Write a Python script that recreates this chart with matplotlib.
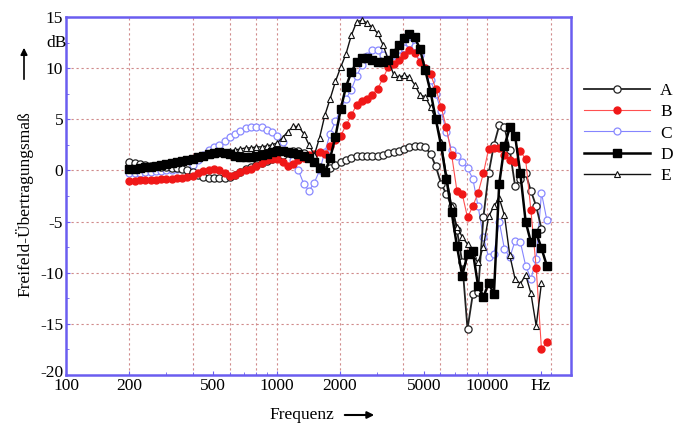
import matplotlib
matplotlib.use("Agg")
import matplotlib.pyplot as plt
import matplotlib.transforms as mtransforms
import numpy as np
from matplotlib.ticker import FixedLocator, LogLocator, MultipleLocator, NullFormatter

plt.rcParams["font.family"] = ["Liberation Serif", "DejaVu Serif"]
plt.rcParams["axes.unicode_minus"] = False

# Messfrequenzen (1/12 Oktave, Hz)
FREQ = [
    200, 212, 224, 238, 252, 267, 283, 300, 317, 336, 356, 377,
    400, 424, 449, 476, 504, 534, 566, 599, 635, 673, 713, 755,
    800, 848, 898, 951, 1008, 1068, 1131, 1199, 1270, 1345, 1425, 1510,
    1600, 1695, 1796, 1903, 2016, 2136, 2263, 2397, 2540, 2691, 2851, 3020,
    3200, 3390, 3592, 3805, 4032, 4271, 4525, 4794, 5080, 5382, 5702, 6041,
    6400, 6781, 7184, 7611, 8063, 8543, 9051, 9589, 10159, 10763, 11404, 12082,
    12800, 13561, 14368, 15222, 16127, 17086, 18102, 19178,
]

nan = np.nan
SERIES_A = [
    0.8, 0.7, 0.6, 0.5, 0.4, 0.4, 0.3, 0.3, 0.2, 0.2, 0.1, 0.0,
    -0.2, -0.4, -0.6, -0.7, -0.7, -0.7, -0.7, -0.6, -0.4, -0.2, 0.1, 0.3,
    0.5, 0.7, 0.9, 1.1, 1.3, 1.5, 1.7, 1.9, 1.9, 1.7, 1.3, 0.8,
    0.3, 0.0, 0.2, 0.5, 0.8, 1.0, 1.2, 1.4, 1.4, 1.4, 1.4, 1.4,
    1.5, 1.7, 1.8, 1.9, 2.1, 2.3, 2.4, 2.4, 2.3, 1.6, 0.4, -1.3,
    -2.3, -3.5, -5.8, -9.0, -15.5, -12.1, -11.9, -4.6, -0.3, 2.5, 4.4, 4.2,
    2.0, -1.5, -0.8, -0.3, -2.0, -3.5, -5.7, nan,
]
SERIES_B = [
    -1.0, -1.0, -0.9, -0.9, -0.9, -0.9, -0.8, -0.8, -0.8, -0.7, -0.7, -0.6,
    -0.5, -0.3, -0.1, 0.0, 0.1, 0.0, -0.3, -0.5, -0.4, -0.2, 0.0, 0.1,
    0.4, 0.7, 1.0, 1.1, 1.1, 0.8, 0.4, 0.6, 1.0, 1.2, 1.5, 1.6,
    1.8, 1.6, 2.4, 3.0, 3.4, 4.4, 5.4, 6.4, 6.8, 7.0, 7.4, 8.0,
    9.0, 10.1, 10.4, 10.8, 11.3, 11.8, 11.5, 10.6, 10.0, 9.4, 8.0, 6.2,
    4.2, 1.5, -2.0, -2.3, -4.6, -3.5, -2.2, -0.3, 2.1, 2.2, 2.2, 1.5,
    1.0, 0.8, 1.9, 1.1, -3.9, -9.5, -17.5, -16.8,
]
SERIES_C = [
    -0.3, -0.3, -0.3, -0.2, -0.2, -0.1, -0.1, 0.0, 0.0, 0.1, 0.2, 0.3,
    0.5, 1.0, 1.5, 2.0, 2.3, 2.5, 2.9, 3.3, 3.6, 3.9, 4.1, 4.2,
    4.2, 4.2, 4.0, 3.8, 3.4, 2.8, 1.8, 1.0, 0.0, -1.3, -2.0, -1.2,
    0.0, 1.8, 3.6, 4.8, 6.0, 7.0, 7.9, 9.2, 10.3, 11.2, 11.8, 11.8,
    11.3, 10.8, 10.6, 11.2, 12.0, 12.5, 12.2, 11.3, 10.0, 8.8, 7.5, 5.8,
    3.8, 2.0, 1.4, 0.8, 0.2, -0.8, -3.5, -6.5, -8.5, -8.2, -5.0, -7.7,
    -8.5, -6.9, -7.0, -9.3, -10.6, -8.7, -2.2, -4.8,
]
SERIES_D = [
    0.1, 0.1, 0.2, 0.3, 0.3, 0.4, 0.5, 0.6, 0.7, 0.8, 0.9, 1.0,
    1.1, 1.3, 1.4, 1.6, 1.7, 1.8, 1.7, 1.6, 1.4, 1.3, 1.3, 1.3,
    1.4, 1.5, 1.6, 1.8, 1.9, 1.9, 1.8, 1.7, 1.6, 1.4, 1.2, 0.8,
    0.2, -0.2, 1.2, 3.3, 6.0, 8.2, 9.6, 10.6, 11.0, 11.0, 10.8, 10.6,
    10.6, 10.8, 11.5, 12.3, 12.9, 13.3, 13.0, 11.9, 9.8, 7.7, 5.0, 2.4,
    -0.8, -4.1, -7.4, -10.3, -8.2, -7.9, -11.3, -12.4, -11.0, -12.1, -1.3, 2.4,
    4.2, 3.4, -0.3, -5.0, -7.0, -6.1, -7.6, -9.3,
]
SERIES_E = [
    0.2, 0.2, 0.3, 0.3, 0.4, 0.5, 0.6, 0.7, 0.8, 0.9, 1.0, 1.1,
    1.2, 1.3, 1.4, 1.5, 1.6, 1.7, 1.8, 1.9, 2.0, 2.1, 2.2, 2.2,
    2.3, 2.3, 2.4, 2.5, 2.7, 3.2, 3.8, 4.3, 4.3, 3.6, 2.5, 1.5,
    3.2, 5.4, 7.0, 8.7, 10.1, 11.4, 13.2, 14.5, 14.7, 14.4, 14.0, 13.4,
    12.3, 10.8, 9.4, 9.1, 9.3, 9.1, 8.4, 7.4, 7.2, 6.2, 5.0, 2.8,
    -0.5, -3.5, -5.5, -6.5, -7.2, -8.3, -9.0, -7.5, -4.5, -3.5, -2.7, -4.4,
    -8.3, -10.6, -11.1, -10.2, -12.0, -15.2, -11.0, nan,
]

X_TICKS = [100, 200, 500, 1000, 2000, 5000, 10000, 18000]
X_TICK_LABELS = ["100", "200", "500", "1000", "2000", "5000", "10000", "Hz"]
X_GRID = [200, 400, 600, 800, 1000, 2000, 4000, 6000, 8000, 10000, 20000]
Y_TICKS = [-20, -15, -10, -5, 0, 5, 10, 15]

SPINE_COLOR = "#6a5df0"
GRID_COLOR = "#d08a8a"
FS = 12.5

fig = plt.figure(figsize=(6.83, 4.28), dpi=100, facecolor="white")
ax = fig.add_axes([66 / 683, 1 - 375 / 428, (571 - 66) / 683, (375 - 17) / 428])

# Gitter
for gx in X_GRID:
    ax.axvline(gx, color=GRID_COLOR, lw=0.8, ls=(0, (2, 2.5)), zorder=0)
for gy in [-15, -10, -5, 0, 5, 10]:
    ax.axhline(gy, color=GRID_COLOR, lw=0.8, ls=(0, (2, 2.5)), zorder=0)

lc = ax.plot(FREQ, SERIES_C, color="#8585ff", lw=0.8, marker="o", ms=5,
             mfc="white", mec="#8a8aff", mew=0.9, zorder=2, label="C")[0]
la = ax.plot(FREQ, SERIES_A, color="#222222", lw=1.3, marker="o", ms=5.2,
             mfc="white", mec="#222222", mew=0.9, zorder=3, label="A")[0]
lb = ax.plot(FREQ, SERIES_B, color="#ff5050", lw=0.8, marker="o", ms=5,
             mfc="#f01818", mec="#f01818", zorder=3, label="B")[0]
le = ax.plot(FREQ, SERIES_E, color="#111111", lw=1.0, marker="^", ms=4.8,
             mfc="white", mec="#111111", mew=0.8, zorder=4, label="E")[0]
ld = ax.plot(FREQ, SERIES_D, color="black", lw=1.8, marker="s", ms=5.2,
             mfc="black", mec="black", zorder=5, label="D")[0]

ax.set_xscale("log")
ax.set_xlim(100, 25000)
ax.set_ylim(-20, 15)

ax.xaxis.set_major_locator(FixedLocator(X_TICKS))
ax.set_xticklabels(X_TICK_LABELS)
ax.xaxis.set_minor_locator(LogLocator(base=10, subs=np.arange(2, 10)))
ax.xaxis.set_minor_formatter(NullFormatter())
ax.set_yticks(Y_TICKS)
ax.set_yticklabels([str(v) for v in Y_TICKS])
ax.yaxis.set_minor_locator(MultipleLocator(2.5))

ax.tick_params(axis="both", which="major", direction="in", length=3,
               color=SPINE_COLOR, labelsize=FS, pad=2)
ax.tick_params(axis="both", which="minor", direction="in", length=2,
               color=SPINE_COLOR)
for sp in ax.spines.values():
    sp.set_color(SPINE_COLOR)
    sp.set_linewidth(1.8)

# "-20" sitzt etwas hoeher, damit es nicht auf "100" liegt
lbl_m20 = ax.get_yticklabels()[0]
lbl_m20.set_transform(lbl_m20.get_transform()
                      + mtransforms.ScaledTranslation(0, 4 / 100, fig.dpi_scale_trans))

# Einheit und Achsenbeschriftungen
fig.text(57 / 683, 1 - 43 / 428, "dB", fontsize=FS, ha="center", va="center")
fig.text(24 / 683, 1 - 204 / 428, "Freifeld-Übertragungsmaß", fontsize=FS,
         rotation=90, ha="center", va="center")
ax.annotate("", xy=(24 / 683, 1 - 45 / 428), xytext=(24 / 683, 1 - 82 / 428),
            xycoords="figure fraction", textcoords="figure fraction",
            arrowprops=dict(arrowstyle="-|>", lw=1.2, color="black",
                            mutation_scale=10))
fig.text(302 / 683, 1 - 415 / 428, "Frequenz", fontsize=FS, ha="center",
         va="center")
ax.annotate("", xy=(377 / 683, 1 - 415 / 428), xytext=(342 / 683, 1 - 415 / 428),
            xycoords="figure fraction", textcoords="figure fraction",
            arrowprops=dict(arrowstyle="-|>", lw=1.5, color="black",
                            mutation_scale=10))

fig.legend([la, lb, lc, ld, le], ["A", "B", "C", "D", "E"],
           loc="upper left", bbox_to_anchor=(568 / 683, 1 - 67 / 428),
           frameon=False, fontsize=FS, handlelength=3.8, handletextpad=0.6,
           labelspacing=0.3, numpoints=1)

fig.savefig("out.png", dpi=100, facecolor="white")
